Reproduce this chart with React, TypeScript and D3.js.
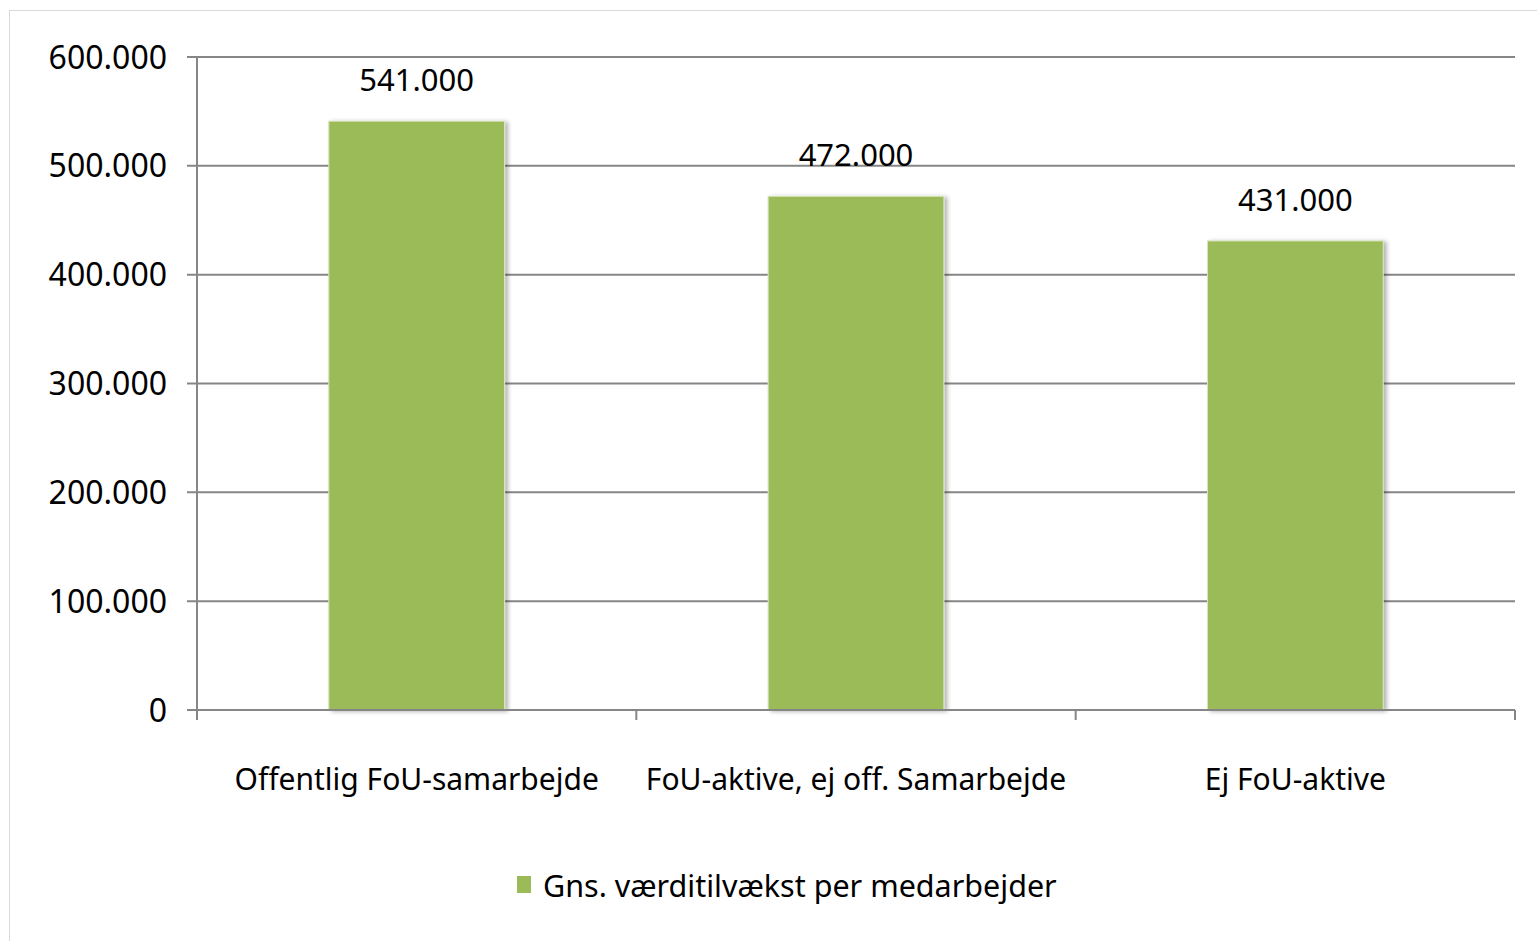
import React from "react";
import * as d3 from "d3";

const categories = ["Offentlig FoU-samarbejde", "FoU-aktive, ej off. Samarbejde", "Ej FoU-aktive"];
const values = [541000, 472000, 431000];
const yTicks = [0, 100000, 200000, 300000, 400000, 500000, 600000];
const seriesName = "Gns. værditilvækst per medarbejder";

const W = 1537;
const H = 941;
const left = 197;
const right = 1515;
const top = 57;
const bottom = 710;
const barColor = "#9BBB59";
const gridColor = "#868686";
const font = "'Noto Sans', sans-serif";

const fmt = (v: number) => {
  if (v === 0) return "0";
  return d3.format(",")(v).replace(/,/g, ".");
};

export default function App() {
  const x = d3.scaleBand<string>().domain(categories).range([left, right]).paddingInner(0.6).paddingOuter(0.3);
  const y = d3.scaleLinear().domain([0, 600000]).range([bottom, top]);
  const step = (right - left) / categories.length;
  const tickXs = d3.range(categories.length + 1).map((i) => left + i * step);

  return (
    <svg width={W} height={H} style={{ position: "absolute", left: 0, top: 0, background: "#fff" }}>
      <defs>
        <filter id="sh" x="-10%" y="-10%" width="130%" height="120%">
          <feDropShadow dx="3" dy="1" stdDeviation="2" floodColor="#000" floodOpacity="0.3" />
        </filter>
      </defs>
      <rect x={9.5} y={10.5} width={W - 9} height={H - 10} fill="#fff" stroke="#d9d9d9" strokeWidth={1} />
      {yTicks.map((t) => (
        <g key={t}>
          <line x1={187} x2={right} y1={y(t)} y2={y(t)} stroke={gridColor} strokeWidth={2} />
          <text x={167} y={y(t)} dy="0.36em" textAnchor="end" fontFamily={font} fontSize={32} fill="#000">
            {fmt(t)}
          </text>
        </g>
      ))}
      <line x1={left} x2={left} y1={top} y2={bottom} stroke={gridColor} strokeWidth={2} />
      {tickXs.map((tx, i) => (
        <line key={i} x1={tx} x2={tx} y1={bottom} y2={bottom + 10} stroke={gridColor} strokeWidth={2} />
      ))}
      {categories.map((c, i) => (
        <g key={c}>
          <rect
            x={x(c)!}
            y={y(values[i])}
            width={x.bandwidth()}
            height={bottom - y(values[i])}
            fill={barColor}
            stroke="#d7e4bd"
            strokeWidth={1}
            filter="url(#sh)"
          />
          <text
            x={x(c)! + x.bandwidth() / 2}
            y={y(values[i]) - 30}
            textAnchor="middle"
            fontFamily={font}
            fontSize={31}
            fill="#000"
          >
            {fmt(values[i])}
          </text>
          <text
            x={x(c)! + x.bandwidth() / 2}
            y={790}
            textAnchor="middle"
            fontFamily={font}
            fontSize={30}
            fill="#000"
          >
            {c}
          </text>
        </g>
      ))}
      <line x1={187} x2={right} y1={bottom} y2={bottom} stroke={gridColor} strokeWidth={2} />
      <rect x={517} y={876} width={14} height={17} fill={barColor} />
      <text x={543} y={897} fontFamily={font} fontSize={30.5} fill="#000">
        {seriesName}
      </text>
    </svg>
  );
}
